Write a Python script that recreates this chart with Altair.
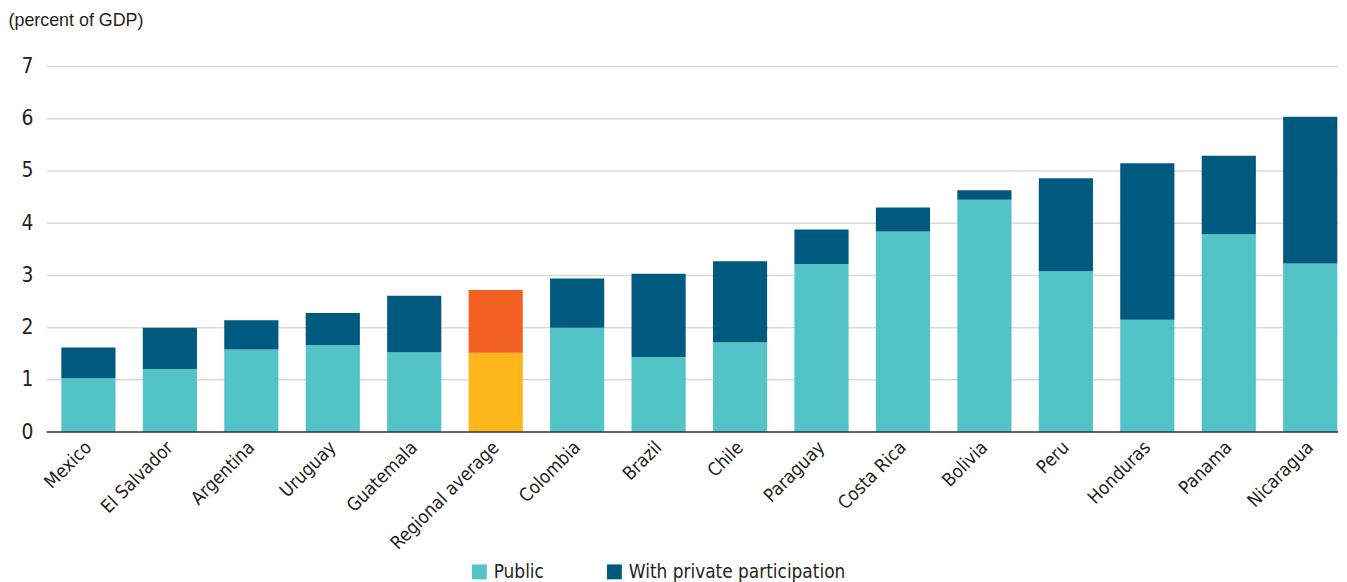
import altair as alt
import pandas as pd

countries = ["Mexico", "El Salvador", "Argentina", "Uruguay", "Guatemala",
             "Regional average", "Colombia", "Brazil", "Chile", "Paraguay",
             "Costa Rica", "Bolivia", "Peru", "Honduras", "Panama", "Nicaragua"]
public = [1.03, 1.21, 1.58, 1.67, 1.53, 1.52, 2.00, 1.44, 1.72, 3.22,
          3.84, 4.45, 3.08, 2.15, 3.79, 3.23]
private = [0.59, 0.79, 0.56, 0.61, 1.08, 1.20, 0.94, 1.59, 1.55, 0.66,
           0.46, 0.18, 1.78, 3.00, 1.50, 2.81]
series_names = ["Public", "With private participation"]
series_colors = ["#52C3C6", "#005A80"]
regional_colors = ["#FDB71A", "#F26122"]
y_ticks = [0, 1, 2, 3, 4, 5, 6, 7]

rows = []
for c, p, q in zip(countries, public, private):
    rows.append({"country": c, "series": series_names[0], "value": p, "ord": 0})
    rows.append({"country": c, "series": series_names[1], "value": q, "ord": 1})
df = pd.DataFrame(rows)
grid_df = pd.DataFrame({"value": y_ticks[1:]})
base_df = pd.DataFrame({"value": [0]})

FONT = "DejaVu Sans Condensed, Liberation Sans Narrow, sans-serif"
TXT = "#231F20"
W = 1300

y_scale = alt.Scale(domain=[0, 7], nice=False)
y_axis = alt.Axis(values=y_ticks, title="(percent of GDP)", titleAngle=0,
                  titleAlign="left", titleX=-39, titleY=-37,
                  titleFont="Liberation Sans, sans-serif", titleFontSize=18,
                  titleFontWeight="normal", titleColor=TXT,
                  labelFont=FONT, labelFontSize=21, labelColor=TXT,
                  labelPadding=14, ticks=False, domain=False, grid=False)

x_enc = alt.X("country:N", sort=countries,
              scale=alt.Scale(range=[14.7, 1299.3], paddingInner=0.335, paddingOuter=0),
              axis=alt.Axis(title=None, labelAngle=-45, labelAlign="right", labelBaseline="middle",
                            labelFont=FONT, labelFontSize=18.5, labelColor=TXT,
                            ticks=False, labelPadding=12, domain=False, grid=False))
y_enc = alt.Y("value:Q", stack="zero", scale=y_scale, axis=y_axis)
y_rule = alt.Y("value:Q", scale=y_scale, axis=y_axis)

grid = alt.Chart(grid_df).mark_rule(color="#D9D9D9", strokeWidth=1.5).encode(
    y=y_rule, x=alt.value(0), x2=alt.value(W),
)

main = alt.Chart(df).transform_filter(alt.datum.country != "Regional average").mark_bar().encode(
    x=x_enc, y=y_enc,
    color=alt.Color("series:N", sort=series_names,
                    scale=alt.Scale(domain=series_names, range=series_colors),
                    legend=alt.Legend(title=None, orient="none", legendX=426, legendY=499,
                                      direction="horizontal", symbolType="square",
                                      symbolSize=225, symbolStrokeWidth=0,
                                      labelFont=FONT, labelFontSize=19, labelColor=TXT,
                                      labelLimit=400, labelOffset=5, columnPadding=61)),
    order=alt.Order("ord:Q"),
)

regional = alt.Chart(df).transform_filter(alt.datum.country == "Regional average").mark_bar().encode(
    x=x_enc, y=y_enc,
    color=alt.condition(alt.datum.series == "Public", alt.value(regional_colors[0]),
                        alt.value(regional_colors[1])),
    order=alt.Order("ord:Q"),
)

baseline = alt.Chart(base_df).mark_rule(color="#333333", strokeWidth=1.5).encode(
    y=y_rule, x=alt.value(0), x2=alt.value(W),
)

chart = alt.layer(grid, main, regional, baseline).properties(
    width=W, height=368,
    padding={"left": 0, "top": 2, "right": 0, "bottom": 0},
).configure_view(stroke=None)

chart.save("out.html", embed_options={"renderer": "svg", "actions": False})
